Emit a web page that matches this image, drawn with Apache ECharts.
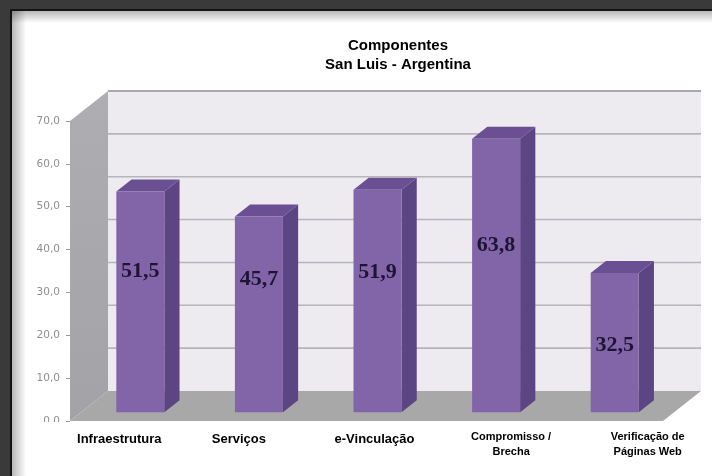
<!DOCTYPE html>
<html>
<head>
<meta charset="utf-8">
<script src="https://cdn.jsdelivr.net/npm/echarts@6/dist/echarts.min.js"></script>
<style>
  html, body { margin: 0; padding: 0; background: #ffffff; }
  #chart { width: 712px; height: 476px; }
</style>
</head>
<body>
<div id="chart"></div>
<script>
// Chart data
const titleLines = ['Componentes', 'San Luis - Argentina'];
const categories = ['Infraestrutura', 'Serviços', 'e-Vinculação', 'Compromisso /\nBrecha', 'Verificação de\nPáginas Web'];
const values = [51.5, 45.7, 51.9, 63.8, 32.5];
const yMin = 0, yMax = 70, yStep = 10;

// Styling: horizontal nudge of each category label (px) and where the value text sits
// inside each column (fraction of the column height, measured from its top)
const labelNudge = [-10, -9, 8, 26, 44];
const valueTextDrop = [0.36, 0.32, 0.37, 0.39, 0.52];

// Depth of the 3D box (px) and the slab the columns occupy along it
const DEPTH = { x: 38, y: -30 };
const COL_FRONT = 0.29, COL_DEPTH = 0.40, COL_WIDTH = 0.405;

const fmt = v => v.toFixed(1).replace('.', ',');

const chart = echarts.init(document.getElementById('chart'), null, { renderer: 'canvas' });

// Rich styles for the category labels, one per index so each can be nudged
const rich = {};
categories.forEach((c, i) => {
  const s = labelNudge[i];
  const twoLines = c.indexOf('\n') >= 0;
  rich['c' + i] = {
    fontFamily: 'Liberation Sans, Arial, sans-serif',
    fontWeight: 'bold',
    fontSize: twoLines ? 11 : 13,
    lineHeight: twoLines ? 15 : 16,
    color: '#000',
    align: 'center',
    padding: [twoLines ? 0 : 5, s < 0 ? -2 * s : 0, 0, s > 0 ? 2 * s : 0]
  };
});

// Box walls, floor and back-wall gridlines
function renderBox(params, api) {
  const cs = params.coordSys;
  const dx = DEPTH.x, dy = DEPTH.y;
  const L = cs.x, R = cs.x + cs.width, T = cs.y, B = cs.y + cs.height;
  const children = [];
  // back wall
  children.push({
    type: 'polygon',
    shape: { points: [[L + dx, T + dy], [R + dx, T + dy], [R + dx, B + dy], [L + dx, B + dy]] },
    style: { fill: '#EDEAF0' }
  });
  // gridlines on the back wall
  for (let t = yMin + yStep; t < yMax; t += yStep) {
    const y = api.coord([0, t])[1] + dy;
    children.push({
      type: 'line',
      shape: { x1: L + dx, y1: y, x2: R + dx, y2: y },
      style: { stroke: '#B7B4BA', lineWidth: 1.6 }
    });
  }
  // top edge of the back wall
  children.push({
    type: 'line',
    shape: { x1: L + dx, y1: T + dy, x2: R + dx, y2: T + dy },
    style: { stroke: '#A9A8AB', lineWidth: 2 }
  });
  // left wall
  children.push({
    type: 'polygon',
    shape: { points: [[L, T], [L + dx, T + dy], [L + dx, B + dy], [L, B]] },
    style: {
      fill: new echarts.graphic.LinearGradient(0, 0, 0, 1, [
        { offset: 0, color: '#AEADB1' },
        { offset: 1, color: '#A3A2A6' }
      ])
    }
  });
  // floor
  children.push({
    type: 'polygon',
    shape: { points: [[L, B], [L + dx, B + dy], [R + dx, B + dy], [R, B]] },
    style: { fill: '#A8A8A8' }
  });
  return { type: 'group', children };
}

// 3D columns: front face, right side and top
function renderColumn(params, api) {
  const i = api.value(0), v = api.value(1);
  const base = api.coord([i, 0]);
  const top = api.coord([i, v]);
  const band = api.size([1, 0])[0];
  const w = band * COL_WIDTH;
  const fx = DEPTH.x * COL_FRONT, fy = DEPTH.y * COL_FRONT;
  const sx = DEPTH.x * COL_DEPTH, sy = DEPTH.y * COL_DEPTH;
  const x0 = base[0] - w / 2 + fx, x1 = x0 + w;
  const yb = base[1] + fy, yt = top[1] + fy;
  const h = yb - yt;
  return {
    type: 'group',
    children: [
      {
        type: 'polygon',
        shape: { points: [[x1, yt], [x1 + sx, yt + sy], [x1 + sx, yb + sy], [x1, yb]] },
        style: { fill: '#5C4583' }
      },
      {
        type: 'polygon',
        shape: { points: [[x0, yt], [x0 + sx, yt + sy], [x1 + sx, yt + sy], [x1, yt]] },
        style: { fill: '#6A5092' }
      },
      {
        type: 'rect',
        shape: { x: x0, y: yt, width: w, height: h },
        style: { fill: '#8265A9' }
      },
      {
        type: 'text',
        x: x0 + w / 2,
        y: yt + h * valueTextDrop[params.dataIndex],
        style: {
          text: fmt(v),
          fontFamily: 'Liberation Serif, Times New Roman, serif',
          fontWeight: 'bold',
          fontSize: 22,
          fill: '#1E1535',
          align: 'center',
          verticalAlign: 'middle'
        }
      }
    ]
  };
}

const option = {
  backgroundColor: '#ffffff',
  animation: false,
  title: {
    text: titleLines.join('\n'),
    left: 393,
    top: 31,
    textAlign: 'center',
    textStyle: {
      fontFamily: 'Liberation Sans, Arial, sans-serif',
      fontWeight: 'bold',
      fontSize: 15,
      lineHeight: 19,
      color: '#000'
    }
  },
  grid: { left: 70, right: 49, top: 121, bottom: 55 },
  xAxis: {
    type: 'category',
    data: categories,
    axisLine: { show: false },
    axisTick: { show: false },
    axisLabel: {
      margin: 8,
      interval: 0,
      formatter: (val, idx) => val.split('\n').map(line => '{c' + idx + '|' + line + '}').join('\n'),
      rich
    }
  },
  yAxis: {
    type: 'value',
    min: yMin,
    max: yMax,
    interval: yStep,
    splitLine: { show: false },
    axisLine: { show: false },
    axisTick: { show: true, length: 4, lineStyle: { color: '#9A9A9A', width: 1 } },
    axisLabel: {
      margin: 10,
      formatter: v => fmt(v),
      fontFamily: 'DejaVu Sans, Verdana, sans-serif',
      fontSize: 10.5,
      color: '#8E8E8E'
    }
  },
  series: [
    {
      type: 'custom',
      renderItem: renderBox,
      data: [[0, 0]],
      silent: true,
      z: 1
    },
    {
      type: 'custom',
      renderItem: renderColumn,
      data: values.map((v, i) => [i, v]),
      z: 2
    }
  ],
  graphic: [
    // dark frame along the top and left edges
    { type: 'rect', shape: { x: 0, y: 0, width: 712, height: 9 }, style: { fill: '#3A3A3A' }, z: 100 },
    { type: 'rect', shape: { x: 0, y: 0, width: 11, height: 476 }, style: { fill: '#3A3A3A' }, z: 100 },
    { type: 'rect', shape: { x: 11, y: 9, width: 701, height: 2 }, style: { fill: '#151515' }, z: 100 },
    { type: 'rect', shape: { x: 10, y: 9, width: 2, height: 467 }, style: { fill: '#151515' }, z: 100 },
    {
      type: 'rect', shape: { x: 12, y: 11, width: 700, height: 12 }, z: 99,
      style: { fill: new echarts.graphic.LinearGradient(0, 0, 0, 1, [
        { offset: 0, color: 'rgba(0,0,0,0.28)' }, { offset: 1, color: 'rgba(0,0,0,0)' }
      ]) }
    },
    {
      type: 'rect', shape: { x: 12, y: 11, width: 14, height: 465 }, z: 99,
      style: { fill: new echarts.graphic.LinearGradient(0, 0, 1, 0, [
        { offset: 0, color: 'rgba(0,0,0,0.28)' }, { offset: 1, color: 'rgba(0,0,0,0)' }
      ]) }
    },
    // the category-label box overlaps the lowest value label
    { type: 'rect', shape: { x: 44, y: 422, width: 30, height: 14 }, style: { fill: '#ffffff' }, z: 50 }
  ]
};

chart.setOption(option);
</script>
</body>
</html>
